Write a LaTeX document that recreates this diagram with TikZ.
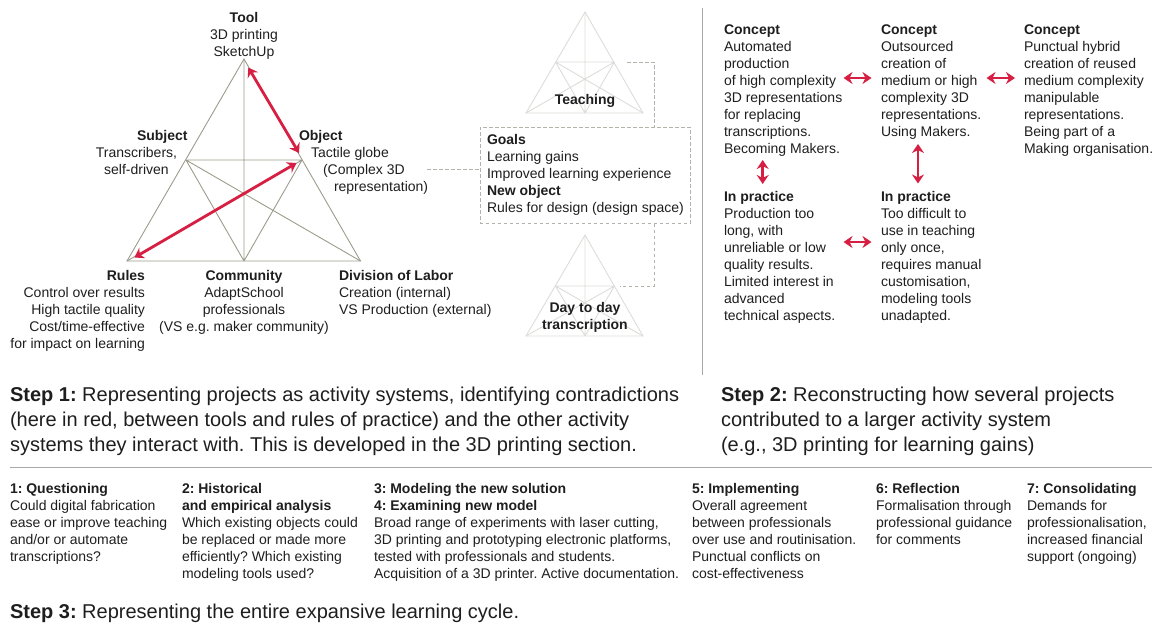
\documentclass[tikz,border=0pt]{standalone}
\usepackage{fontspec}
\setmainfont{Liberation Sans}
\usetikzlibrary{arrows.meta}
\definecolor{txtc}{HTML}{1E1E1E}
\definecolor{triA}{HTML}{9C9B8C}
\definecolor{triB}{HTML}{DCDCDA}
\definecolor{redc}{HTML}{D61F42}
\definecolor{dashc}{HTML}{B4B2AA}
\definecolor{rulec}{HTML}{A8A8A8}
\newcommand{\Sx}{\rule{0pt}{9.4pt}}
\newcommand{\Sy}{\rule{0pt}{14pt}}
\frenchspacing
\tikzset{
  x=1pt,y=-1pt,
  base/.style={inner sep=0pt,outer sep=0pt,text=txtc,font=\frenchspacing\fontsize{14}{17}\selectfont},
  bl/.style={base,anchor=north west,align=left},
  bc/.style={base,anchor=north,align=center},
  br/.style={base,anchor=north east,align=right},
  stp/.style={base,anchor=north west,align=left,font=\frenchspacing\fontsize{20}{25}\selectfont},
  tri/.style={draw=triA,line width=0.9pt},
  trilight/.style={draw=triB,line width=0.9pt},
  dbl/.style={draw=redc,line width=2.8pt,{Stealth[length=9pt,width=12pt,inset=3pt]}-{Stealth[length=9pt,width=12pt,inset=3pt]}},
  dsh/.style={draw=dashc,line width=0.7pt,dash pattern=on 3.5pt off 2.5pt},
  sep/.style={draw=rulec,line width=0.8pt}
}
\begin{document}
\begin{tikzpicture}
\useasboundingbox (0,0) rectangle (1157,630);
% main triangle
\coordinate (A) at (244,59);
\coordinate (L) at (127,261);
\coordinate (R) at (360.5,261);
\coordinate (M) at (244,261);
\coordinate (S) at (186,160);
\coordinate (O) at (302,160);
\draw[tri] (A)--(L)--(R)--cycle;
\draw[tri] (A)--(M) (S)--(O) (S)--(R) (O)--(L) (S)--(M) (O)--(M);
% small triangles
\foreach \n/\ya/\ym/\yb in {t/12/62/113,b/235/286/336}{
  \coordinate (\n A) at (585,\ya);
  \coordinate (\n L) at (526,\yb);
  \coordinate (\n R) at (643,\yb);
  \coordinate (\n M) at (585,\yb);
  \coordinate (\n S) at (555.5,\ym);
  \coordinate (\n O) at (614.5,\ym);
  \draw[trilight] (\n A)--(\n L)--(\n R)--cycle;
  \draw[trilight] (\n A)--(\n M) (\n S)--(\n O) (\n S)--(\n R) (\n O)--(\n L) (\n S)--(\n M) (\n O)--(\n M);
}
% goals box
\node[draw=dashc,line width=0.7pt,dash pattern=on 3.5pt off 2.5pt,minimum width=210.5pt,minimum height=96pt,inner sep=0pt,anchor=north west] (goalbox) at (479.5,127) {};
\coordinate (dT) at (627,62);
\coordinate (dTc) at (654,62);
\coordinate (dBc) at (654,286);
\coordinate (dB) at (620,286);
\coordinate (dL) at (427,169.5);
\draw[dsh] (dT)--(dTc)--(dTc|-goalbox.north);
\draw[dsh] (dBc|-goalbox.south)--(dBc)--(dB);
\draw[dsh] (dL)--(dL-|goalbox.west);
% text of activity system
\node[bc] (tTool) at (244,12) {\Sx\textbf{Tool}\\3D printing\\SketchUp};
\node[bl] (tSubj) at (137,130) {\Sx\textbf{Subject}};
\node[bc] (tSubj2) at (136.5,147) {\Sx Transcribers,\\self-driven};
\node[bl] (tObj) at (299,130) {\Sx\textbf{Object}};
\node[bl] (tObj2) at (311,147) {\Sx Tactile globe};
\node[bl] (tObj3) at (323,164) {\Sx(Complex 3D};
\node[bl] (tObj4) at (334,181) {\Sx representation)};
\node[br] (tRules) at (145,270) {\Sx\textbf{Rules}\\Control over results\\High tactile quality\\Cost/time-effective\\for impact on learning};
\node[bc] (tComm) at (244,270) {\Sx\textbf{Community}\\AdaptSchool\\professionals\\(VS e.g. maker community)};
\node[bl] (tDiv) at (339,270) {\Sx\textbf{Division of Labor}\\Creation (internal)\\VS Production (external)};
\node[bc] (tTeach) at (585,94) {\Sx\textbf{Teaching}};
\node[bc] (tDay) at (585,302) {\Sx\textbf{Day to day}\\\textbf{transcription}};
\node[bl] (tGoals) at (487,134) {\Sx\textbf{Goals}\\Learning gains\\Improved learning experience\\\textbf{New object}\\Rules for design (design space)};
% step 2 blocks
\node[bl] (c1) at (724,25) {\Sx\textbf{Concept}\\Automated\\production\\of high complexity\\3D representations\\for replacing\\transcriptions.\\Becoming Makers.};
\node[bl] (c2) at (881,25) {\Sx\textbf{Concept}\\Outsourced\\creation of\\medium or high\\complexity 3D\\representations.\\Using Makers.};
\node[bl] (c3) at (1024,25) {\Sx\textbf{Concept}\\Punctual hybrid\\creation of reused\\medium complexity\\manipulable\\representations.\\Being part of a\\Making organisation.};
\node[bl] (p1) at (724,191) {\Sx\textbf{In practice}\\Production too\\long, with\\unreliable or low\\quality results.\\Limited interest in\\advanced\\technical aspects.};
\node[bl] (p2) at (881,191) {\Sx\textbf{In practice}\\Too difficult to\\use in teaching\\only once,\\requires manual\\customisation,\\modeling tools\\unadapted.};
% arrows
\coordinate (a1) at (248.3,67.5);
\coordinate (a2) at (299,153);
\coordinate (a3) at (134.5,257.5);
\coordinate (a4) at (296.5,163);
\draw[dbl] (a1)--(a2);
\draw[dbl] (a3)--(a4);
\coordinate (h1a) at (843.5,78); \coordinate (h1b) at (871.5,78);
\coordinate (h2a) at (986.5,78); \coordinate (h2b) at (1015,78);
\coordinate (h3a) at (843.5,242); \coordinate (h3b) at (871.5,242);
\coordinate (v1a) at (762.7,160); \coordinate (v1b) at (762.7,184);
\coordinate (v2a) at (918,144); \coordinate (v2b) at (918,183.5);
\draw[dbl] (h1a)--(h1b);
\draw[dbl] (h2a)--(h2b);
\draw[dbl] (h3a)--(h3b);
\draw[dbl] (v1a)--(v1b);
\draw[dbl] (v2a)--(v2b);
% step captions
\node[stp] (s1) at (10,387) {\Sy\textbf{Step 1:} Representing projects as activity systems, identifying contradictions\\(here in red, between tools and rules of practice) and the other activity\\systems they interact with. This is developed in the 3D printing section.};
\node[stp] (s2) at (721,387) {\Sy\textbf{Step 2:} Reconstructing how several projects\\contributed to a larger activity system\\(e.g., 3D printing for learning gains)};
\node[stp] (s3) at (10,604) {\Sy\textbf{Step 3:} Representing the entire expansive learning cycle.};
% separators
\coordinate (vt) at (702,8); \coordinate (vb) at (702,375);
\coordinate (hl) at (10,467); \coordinate (hr) at (1152,467);
\draw[sep] (vt)--(vb);
\draw[sep] (hl)--(hr);
% cycle
\node[bl] (q1) at (10,483) {\Sx\textbf{1: Questioning}\\Could digital fabrication\\ease or improve teaching\\and/or or automate\\transcriptions?};
\node[bl] (q2) at (182,483) {\Sx\textbf{2: Historical}\\\textbf{and empirical analysis}\\Which existing objects could\\be replaced or made more\\efficiently? Which existing\\modeling tools used?};
\node[bl] (q3) at (374,483) {\Sx\textbf{3: Modeling the new solution}\\\textbf{4: Examining new model}\\Broad range of experiments with laser cutting,\\3D printing and prototyping electronic platforms,\\tested with professionals and students.\\Acquisition of a 3D printer. Active documentation.};
\node[bl] (q5) at (692,483) {\Sx\textbf{5: Implementing}\\Overall agreement\\between professionals\\over use and routinisation.\\Punctual conflicts on\\cost-effectiveness};
\node[bl] (q6) at (876,483) {\Sx\textbf{6: Reflection}\\Formalisation through\\professional guidance\\for comments};
\node[bl] (q7) at (1027,483) {\Sx\textbf{7: Consolidating}\\Demands for\\professionalisation,\\increased financial\\support (ongoing)};
\end{tikzpicture}
\end{document}
